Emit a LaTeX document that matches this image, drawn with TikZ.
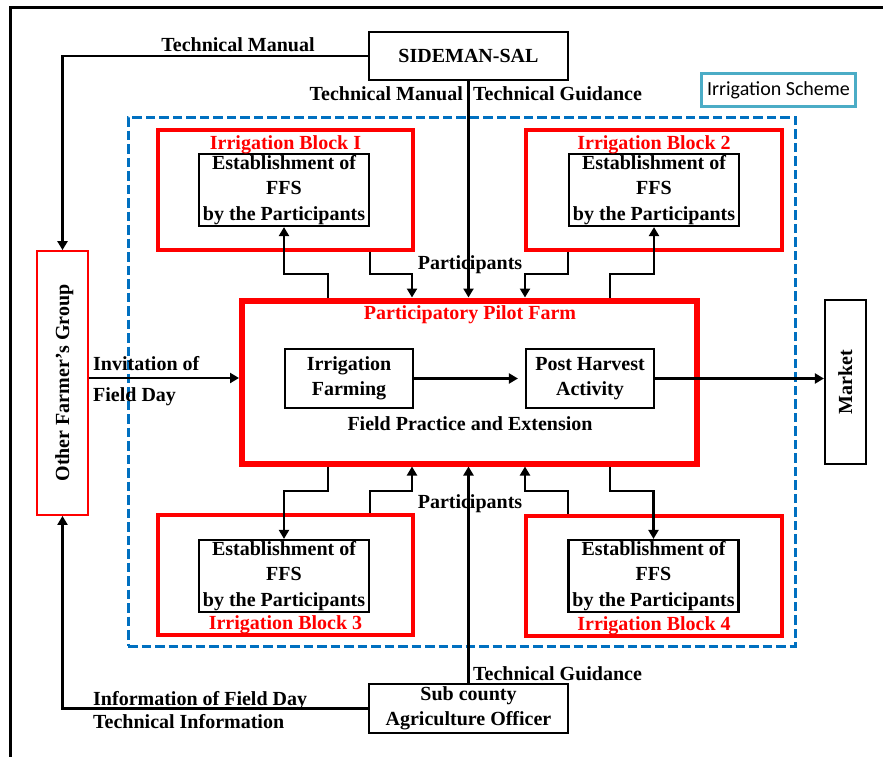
\documentclass[tikz,border=0pt]{standalone}
\usepackage{fontspec}
\setmainfont{Liberation Serif}
\newfontfamily\calibrifont{Carlito}
\usetikzlibrary{arrows.meta}
\definecolor{blockred}{HTML}{FF0000}
\definecolor{schemeblue}{HTML}{0070C0}
\definecolor{tagcyan}{HTML}{4BACC6}
\begin{document}
\begin{tikzpicture}[x=1pt,y=-1pt,
  font=\fontsize{20}{25.5}\selectfont\bfseries,
  box/.style={draw, line width=2.2pt, inner sep=0pt, align=center},
  blockbox/.style={draw=blockred, line width=4pt, inner sep=0pt},
  lbl/.style={inner sep=0pt, text height=17pt, text depth=4pt},
  redlbl/.style={lbl, text=blockred},
  link/.style={line width=2.5pt},
  arr/.style={link, -{Triangle[length=9pt,width=10pt]}},
]
\useasboundingbox (0,0) rectangle (883,756);

% page frame (only its top and left sides fall on the page)
\draw[line width=3.5pt] (10.5,770) |- (900,7.5);

% irrigation scheme boundary and its tag
\node[draw=schemeblue, line width=3pt, dash pattern=on 9.5pt off 4pt,
      minimum width=667pt, minimum height=529pt, inner sep=0pt] (scheme) at (461.5,381.5) {};
\node[draw=tagcyan, line width=3pt, minimum width=154pt, minimum height=33pt, inner sep=0pt,
      font=\calibrifont\fontsize{20}{24}\selectfont] (tag) at (778.5,90) {Irrigation Scheme};

% outside actors
\node[box, minimum width=199pt, minimum height=48pt] (side) at (468.5,56) {SIDEMAN-SAL};
\node[box, minimum width=199pt, minimum height=49pt] (sub) at (468.5,708.5) {Sub county\\Agriculture Officer};
\node[draw=blockred, line width=1.8pt, minimum width=51pt, minimum height=264pt, inner sep=0pt] (other) at (62.5,383) {};
\node[lbl, rotate=90] (othertext) at (other.center) {Other Farmer's Group};
\node[box, minimum width=41pt, minimum height=164pt] (market) at (845.5,382) {};
\node[lbl, rotate=90] (markettext) at (market.center) {Market};

% irrigation blocks
\node[blockbox, minimum width=255pt, minimum height=120pt] (b1) at (285.5,190) {};
\node[box, minimum width=170pt, minimum height=72pt] (f1) at (284,190) {Establishment of\\FFS\\by the Participants};
\node[redlbl] (t1) at (285.5,143) {Irrigation Block I};

\node[blockbox, minimum width=256pt, minimum height=120pt] (b2) at (654,190) {};
\node[box, minimum width=170pt, minimum height=72pt] (f2) at (654,190) {Establishment of\\FFS\\by the Participants};
\node[redlbl] (t2) at (654,143) {Irrigation Block 2};

\node[blockbox, minimum width=255pt, minimum height=120pt] (b3) at (285.5,575) {};
\node[box, minimum width=170pt, minimum height=72pt] (f3) at (284,576) {Establishment of\\FFS\\by the Participants};
\node[redlbl] (t3) at (285.5,623) {Irrigation Block 3};

\node[blockbox, minimum width=256pt, minimum height=120pt] (b4) at (654,576) {};
\node[box, minimum width=170pt, minimum height=72pt] (f4) at (653.5,576) {Establishment of\\FFS\\by the Participants};
\node[redlbl] (t4) at (654,624) {Irrigation Block 4};

% participatory pilot farm
\node[blockbox, line width=6pt, minimum width=454.5pt, minimum height=163pt] (pilot) at (469.25,382) {};
\node[redlbl] (pilottitle) at (470,313) {Participatory Pilot Farm};
\node[box, minimum width=128pt, minimum height=59pt] (farm) at (349,378.5) {Irrigation\\Farming};
\node[box, minimum width=128pt, minimum height=59pt] (ph) at (590,378.5) {Post Harvest\\Activity};
\node[lbl] (practice) at (470,424) {Field Practice and Extension};

% flows around the outside
\draw[arr] (side.west) -| (other.north);
\draw[arr] (side.south) -- (side.south |- pilot.north);
\draw[arr] (sub.north) -- (sub.north |- pilot.south);
\draw[arr] (sub.west) -| (other.south);
\draw[arr] ([yshift=5pt]other.east) -- ([yshift=5pt]other.east -| pilot.west);
\draw[arr, shorten >=7pt] (farm.east) -- (ph.west);
\draw[arr] (ph.east) -- (ph.east -| market.west);

% stepped links between the blocks and the pilot farm
\coordinate (k1) at (328,274);  \coordinate (k2) at (370,274);  \coordinate (k3) at (412,274);
\coordinate (k4) at (568,274);  \coordinate (k5) at (525,274);  \coordinate (k6) at (610,274);
\coordinate (m1) at (328,491);  \coordinate (m2) at (370,491);  \coordinate (m3) at (412,491);
\coordinate (m4) at (568,491);  \coordinate (m5) at (525,491);  \coordinate (m6) at (610,491);

\draw[arr] (k1 |- pilot.north) -- (k1) -| (f1.south);
\draw[arr] (k2 |- b1.south) -- (k2) -- (k3) -- (k3 |- pilot.north);
\draw[arr] (k4 |- b2.south) -- (k4) -- (k5) -- (k5 |- pilot.north);
\draw[arr] (k6 |- pilot.north) -- (k6) -| (f2.south);

\draw[arr] (m1 |- pilot.south) -- (m1) -| (f3.north);
\draw[arr] (m2 |- b3.north) -- (m2) -- (m3) -- (m3 |- pilot.south);
\draw[arr] (m4 |- b4.north) -- (m4) -- (m5) -- (m5 |- pilot.south);
\draw[arr] (m6 |- pilot.south) -- (m6) -| (f4.north);

% labels on the links
\node[lbl] (l1) at (238,45) {Technical Manual};
\node[lbl, anchor=east] (l2) at (463,94) {Technical Manual};
\node[lbl, anchor=west] (l3) at (473,94) {Technical Guidance};
\node[lbl] (l4) at (470,263) {Participants};
\node[lbl] (l5) at (470,502) {Participants};
\node[lbl, anchor=west] (l6) at (473,674) {Technical Guidance};
\node[lbl, anchor=west] (l7) at (93,364) {Invitation of};
\node[lbl, anchor=west] (l8) at (93,395) {Field Day};
\node[lbl, anchor=west] (l9) at (93,699) {Information of Field Day};
\node[lbl, anchor=west] (l10) at (93,722) {Technical Information};
\end{tikzpicture}
\end{document}
